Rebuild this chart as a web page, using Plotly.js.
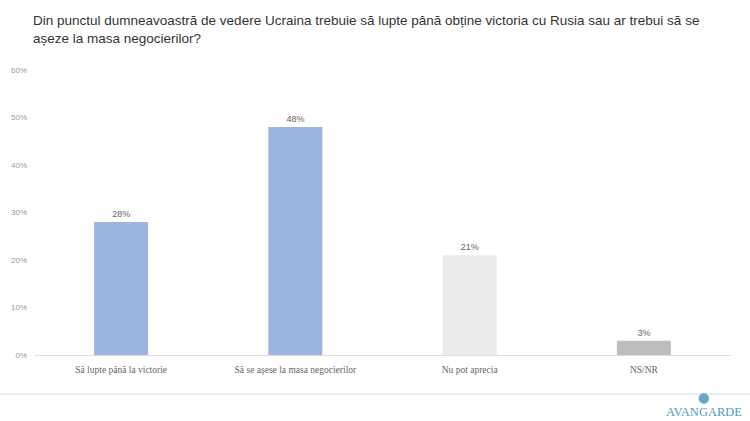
<!DOCTYPE html>
<html><head><meta charset="utf-8">
<script src="https://cdn.plot.ly/plotly-3.0.1.min.js"></script>
<style>html,body{margin:0;padding:0;background:#fff}#chart{width:750px;height:421px}</style>
</head><body><div id="chart"></div>
<script>
const categories = ["Să lupte până la victorie", "Să se așese la masa negocierilor", "Nu pot aprecia", "NS/NR"];
const values = [28, 48, 21, 3];
const valueLabels = ["28%", "48%", "21%", "3%"];
const barColors = ["#9bb5df", "#9bb5df", "#ebebeb", "#bdbdbd"];
const tickValues = [0, 10, 20, 30, 40, 50, 60];
const tickLabels = ["0%", "10%", "20%", "30%", "40%", "50%", "60%"];
const titleText = "Din punctul dumneavoastră de vedere Ucraina trebuie să lupte până obține victoria cu Rusia sau ar trebui să se<br>așeze la masa negocierilor?";

const trace = {
  type: "bar", x: categories, y: values,
  text: valueLabels, textposition: "outside", cliponaxis: false,
  textfont: {family: "Liberation Sans, sans-serif", size: 9, color: "#666"},
  marker: {color: barColors}, width: 0.31, hoverinfo: "none"
};
const layout = {
  width: 750, height: 421,
  margin: {l: 34, r: 19, t: 70, b: 66},
  paper_bgcolor: "#fff", plot_bgcolor: "#fff",
  showlegend: false,
  title: {text: titleText, x: 0.044, xanchor: "left", y: 0.94, yanchor: "top",
    font: {family: "Liberation Sans, sans-serif", size: 13.5, color: "#333"}},
  xaxis: {showgrid: false, zeroline: false, showline: true, linecolor: "#ddd", linewidth: 1,
    ticks: "", ticklabelstandoff: 6, tickfont: {family: "Liberation Serif, serif", size: 9.5, color: "#666"}, fixedrange: true},
  yaxis: {range: [0, 60], tickvals: tickValues, ticktext: tickLabels, showgrid: false, zeroline: false,
    showline: false, ticks: "", tickfont: {family: "Liberation Sans, sans-serif", size: 8, color: "#999"},
    ticklabelstandoff: 6, fixedrange: true},
  shapes: [
    {type: "line", xref: "paper", yref: "paper", x0: -0.05, x1: 1.03, y0: -0.137, y1: -0.137,
      line: {color: "#dbe7ec", width: 1.5}},
    {type: "circle", xref: "paper", yref: "paper", x0: 0.954, x1: 0.968, y0: -0.135, y1: -0.17,
      fillcolor: "#6aa6c6", line: {color: "#4f8fb3", width: 0.5}}
  ],
  annotations: [
    {text: "AVANGARDE", xref: "paper", yref: "paper", x: 1.019, y: -0.2, xanchor: "right", yanchor: "middle",
      showarrow: false, font: {family: "Liberation Serif, serif", size: 12.5, color: "#4d9cc0"}}
  ]
};
Plotly.newPlot("chart", [trace], layout, {displayModeBar: false, staticPlot: true});
</script></body></html>
